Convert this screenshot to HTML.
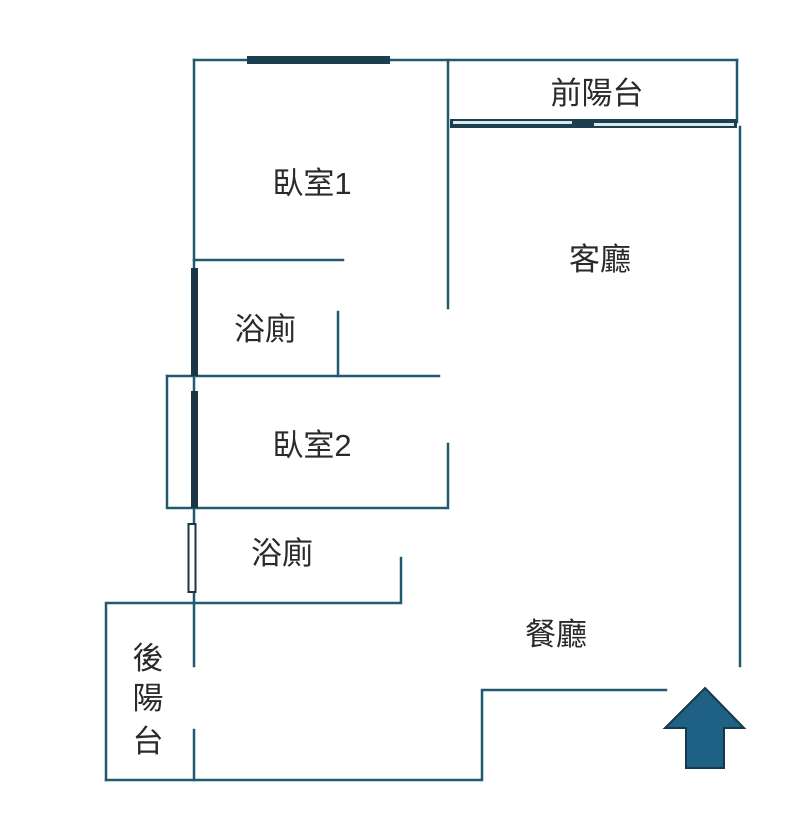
<!DOCTYPE html>
<html><head><meta charset="utf-8"><style>
html,body{margin:0;padding:0;background:#fff;width:800px;height:827px;overflow:hidden}
svg{display:block}
text{font-family:"Liberation Sans","Noto Sans CJK TC",sans-serif;fill:#2a2a2a;font-size:31px}
</style></head><body>
<svg width="800" height="827" viewBox="0 0 800 827" xmlns="http://www.w3.org/2000/svg">
<g stroke="#1f5a70" stroke-width="2.5" fill="none" stroke-linecap="square">
<line x1="194" y1="60" x2="737" y2="60"/>
<line x1="194" y1="60" x2="194" y2="666"/>
<line x1="194" y1="730" x2="194" y2="780"/>
<line x1="448" y1="60" x2="448" y2="308"/>
<line x1="737" y1="60" x2="737" y2="122"/>
<line x1="740" y1="127" x2="740" y2="666"/>
<line x1="194" y1="260" x2="343" y2="260"/>
<line x1="338" y1="312" x2="338" y2="376"/>
<line x1="167" y1="376" x2="439" y2="376"/>
<polyline points="167,376 167,508 448,508 448,444"/>
<polyline points="106,780 106,603 401,603 401,558"/>
<polyline points="106,780 482,780 482,690 666,690"/>
</g>
<rect x="247" y="56" width="143" height="8" fill="#1c3f50"/>
<rect x="450" y="119" width="287" height="9" fill="#1c3f50"/>
<rect x="453" y="121" width="119" height="3" fill="#dde6ea"/>
<rect x="594" y="123" width="140" height="3" fill="#dde6ea"/>
<rect x="191" y="268" width="7" height="108" fill="#1a3544"/>
<rect x="191" y="391" width="7" height="117" fill="#1a3544"/>
<rect x="188.5" y="524" width="7" height="68" fill="#fff" stroke="#1a3544" stroke-width="2"/>
<polygon points="705,688 744,728 724,728 724,768 686,768 686,728 665,728" fill="#1f6085" stroke="#163a4d" stroke-width="2" stroke-linejoin="miter"/>
<text x="597" y="104" text-anchor="middle">前陽台</text>
<text x="312" y="194" text-anchor="middle">臥室1</text>
<text x="600" y="270" text-anchor="middle">客廳</text>
<text x="265" y="340" text-anchor="middle">浴廁</text>
<text x="312" y="456" text-anchor="middle">臥室2</text>
<text x="282" y="564" text-anchor="middle">浴廁</text>
<text x="556" y="645" text-anchor="middle">餐廳</text>
<text x="148" y="669" text-anchor="middle">後</text>
<text x="148" y="709" text-anchor="middle">陽</text>
<text x="148" y="752" text-anchor="middle">台</text>
</svg>
</body></html>
